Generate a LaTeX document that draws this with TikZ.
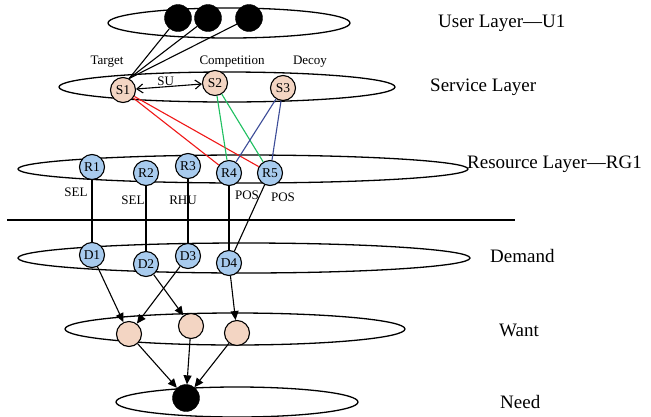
\documentclass[tikz,border=0pt]{standalone}
\usepackage{fontspec}
\setmainfont{Liberation Serif}
\usetikzlibrary{arrows.meta}
\definecolor{peach}{HTML}{F3D5C3}
\definecolor{skyblue}{HTML}{A8CBEE}
\definecolor{linkred}{HTML}{F01818}
\definecolor{linkgreen}{HTML}{1EC060}
\definecolor{linkblue}{HTML}{3C4C98}
\tikzset{
  layer/.style={draw, line width=1.3pt},
  userdot/.style={circle, draw, fill=black, minimum size=27pt, inner sep=0pt},
  svc/.style={circle, draw, line width=1.1pt, fill=peach, minimum size=25pt, inner sep=0pt, font=\fontsize{13.5}{13.5}\selectfont},
  res/.style={circle, draw, line width=1.1pt, fill=skyblue, minimum size=25pt, inner sep=0pt, font=\fontsize{13.5}{13.5}\selectfont},
  wantdot/.style={circle, draw, line width=1.1pt, fill=peach, minimum size=25pt, inner sep=0pt},
  small/.style={font=\fontsize{13}{13}\selectfont, inner sep=0pt},
  big/.style={font=\fontsize{19}{19}\selectfont, inner sep=0pt, anchor=west},
  link/.style={line width=1.1pt},
  flow/.style={line width=1.1pt, -{Triangle[length=9pt, width=8pt]}}
}
\begin{document}
\begin{tikzpicture}[x=1pt, y=-1pt]
\useasboundingbox (0,0) rectangle (651,416);
\fill[white] (0,0) rectangle (651,416);

% layer outlines
\draw[layer] (229,23) ellipse [x radius=121pt, y radius=15pt];
\draw[layer] (227,87) ellipse [x radius=168pt, y radius=15pt];
\draw[layer] (243,169) ellipse [x radius=225pt, y radius=14pt];
\draw[layer] (244,258) ellipse [x radius=226pt, y radius=15pt];
\draw[layer] (235,329) ellipse [x radius=170pt, y radius=16pt];
\draw[layer] (237,402) ellipse [x radius=121pt, y radius=15pt];

% separator between resources and demands
\coordinate (sepL) at (7,220);
\coordinate (sepR) at (515,220);
\draw[line width=1.2pt] (sepL) -- (sepR);

% user layer
\node[userdot] (u1) at (178,18) {};
\node[userdot] (u2) at (208,18) {};
\node[userdot] (u3) at (249,18) {};

% service layer
\node[svc] (s1) at (123,90) {S1};
\node[svc] (s2) at (215,83) {S2};
\node[svc] (s3) at (283,88) {S3};
\node[small] (ltarget) at (107,62) {Target};
\node[small] (lcomp) at (232,62) {Competition};
\node[small] (ldecoy) at (310,62) {Decoy};

% resource layer
\node[res] (r1) at (92,167) {R1};
\node[res] (r2) at (146,173) {R2};
\node[res] (r3) at (188,166) {R3};
\node[res] (r4) at (229,173) {R4};
\node[res] (r5) at (270,173) {R5};

% demand layer
\node[res] (d1) at (92,255) {D1};
\node[res] (d2) at (146,264) {D2};
\node[res] (d3) at (188,256) {D3};
\node[res] (d4) at (229,263) {D4};

% want and need layers
\node[wantdot] (w1) at (129,334) {};
\node[wantdot] (w2) at (191,326) {};
\node[wantdot] (w3) at (237,333) {};
\node[userdot] (n1) at (186,398) {};

% users choose the target service
\foreach \u in {u1,u2,u3} \draw[link] (\u) -- (s1.62);
\draw[link, {Straight Barb[length=6pt, width=9pt]}-{Straight Barb[length=6pt, width=9pt]}] (s1) -- (s2)
  node[small, pos=0.45, above=1pt] (lsu) {SU};

% services bound to resources
\draw[link, linkred] (s1) -- (r4);
\draw[link, linkred] (s1) -- (r5);
\draw[link, linkgreen] (s2) -- (r4);
\draw[link, linkgreen] (s2) -- (r5);
\draw[link, linkblue] (s3) -- (r4);
\draw[link, linkblue] (s3) -- (r5);

% resources matched to demands
\draw[link] (r1) -- (d1);
\draw[link] (r2) -- (d2);
\draw[link] (r3) -- (d3);
\draw[link] (r4) -- (d4);
\draw[link] (r5) -- (d4);
\node[small] (lsel1) at (76,192) {SEL};
\node[small] (lsel2) at (133,200) {SEL};
\node[small] (lrhu) at (183,200) {RHU};
\node[small] (lpos1) at (247,195) {POS};
\node[small] (lpos2) at (283,197) {POS};

% demands turn into wants, wants into the need
\draw[flow] (d1) -- (w1);
\draw[flow] (d3) -- (w1);
\draw[flow] (d2) -- (w2);
\draw[flow] (d4) -- (w3);
\draw[flow] (w1) -- (n1);
\draw[flow] (w2) -- (n1);
\draw[flow] (w3) -- (n1);

% layer names
\node[big] (tuser) at (438,23) {User Layer—U1};
\node[big] (tservice) at (430,87) {Service Layer};
\node[big] (tresource) at (467,164) {Resource Layer—RG1};
\node[big] (tdemand) at (490,256) {Demand};
\node[big] (twant) at (499,330) {Want};
\node[big] (tneed) at (500,402) {Need};
\end{tikzpicture}
\end{document}
